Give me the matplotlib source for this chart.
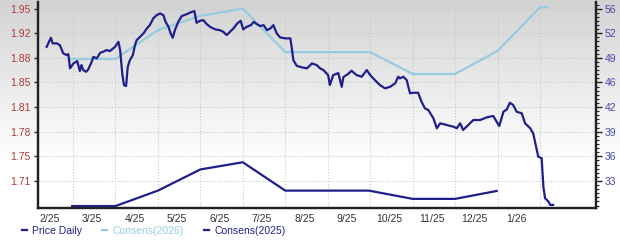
import numpy as np
import matplotlib
matplotlib.use('Agg')
import matplotlib.pyplot as plt
from matplotlib.colors import LinearSegmentedColormap

# x positions are in months: 1.0 = start of 3/25 grid line, 2.0 = 4/25, ...
month_labels = ['2/25', '3/25', '4/25', '5/25', '6/25', '7/25',
                '8/25', '9/25', '10/25', '11/25', '12/25', '1/26']

left_ticks = [1.71, 1.75, 1.78, 1.81, 1.85, 1.88, 1.92, 1.95]
right_ticks = [33, 36, 39, 42, 46, 49, 52, 56]

price_x = [0.38, 0.46, 0.48, 0.52, 0.62, 0.69, 0.77, 0.85, 0.89, 0.93,
           1.01, 1.10, 1.16, 1.20, 1.24, 1.31, 1.36, 1.44, 1.48, 1.56,
           1.64, 1.71, 1.79, 1.87, 1.99, 2.07, 2.11, 2.16, 2.20, 2.25,
           2.29, 2.34, 2.41, 2.46, 2.50, 2.58, 2.66, 2.74, 2.81, 2.89,
           2.97, 3.05, 3.13, 3.18, 3.25, 3.30, 3.35, 3.40, 3.48, 3.56,
           3.68, 3.80, 3.86, 3.91, 3.99, 4.07, 4.15, 4.23, 4.35, 4.46,
           4.54, 4.62, 4.70, 4.78, 4.87, 4.95, 5.01, 5.09, 5.19, 5.26,
           5.33, 5.41, 5.49, 5.57, 5.65, 5.72, 5.80, 5.88, 6.00, 6.12,
           6.15, 6.19, 6.27, 6.39, 6.51, 6.63, 6.74, 6.82, 6.90, 7.01,
           7.05, 7.13, 7.25, 7.33, 7.37, 7.48, 7.56, 7.68, 7.80, 7.92,
           8.00, 8.11, 8.23, 8.35, 8.47, 8.59, 8.66, 8.70, 8.78, 8.86,
           8.94, 9.02, 9.13, 9.21, 9.29, 9.37, 9.49, 9.57, 9.65, 9.80,
           9.96, 10.04, 10.12, 10.19, 10.31, 10.43, 10.59, 10.75, 10.90, 10.98,
           11.04, 11.14, 11.22, 11.29, 11.37, 11.45, 11.57, 11.65, 11.77, 11.84,
           11.91, 11.96, 12.04, 12.08, 12.12, 12.20, 12.24, 12.31]
price_y = [50.91, 51.89, 52.11, 51.36, 51.36, 51.13, 50.03, 49.80, 49.93, 48.03,
           48.69, 49.00, 47.67, 48.47, 47.80, 47.57, 47.89, 48.91, 49.57, 49.36,
           50.11, 50.24, 50.47, 50.33, 50.91, 51.57, 50.47, 47.36, 45.80, 45.67,
           48.24, 49.13, 49.80, 51.13, 51.80, 52.24, 52.69, 53.36, 53.80, 54.69,
           55.13, 55.36, 55.13, 54.24, 53.57, 52.69, 52.11, 53.13, 54.24, 55.00,
           55.27, 55.57, 55.67, 54.11, 54.37, 54.47, 53.93, 53.57, 53.23, 53.13,
           52.91, 52.47, 52.91, 53.36, 54.03, 54.37, 53.23, 53.57, 53.80, 54.24,
           53.93, 53.67, 53.80, 53.13, 53.36, 53.80, 52.69, 52.16, 52.03, 52.03,
           50.91, 49.13, 48.37, 48.16, 48.03, 48.69, 48.47, 48.03, 47.80, 47.13,
           45.80, 47.13, 47.40, 45.57, 46.87, 47.27, 47.71, 47.13, 46.91, 47.80,
           47.13, 46.47, 45.80, 45.36, 45.57, 46.03, 46.91, 46.69, 46.91, 46.47,
           44.69, 44.77, 44.77, 43.57, 42.69, 42.47, 41.36, 40.03, 40.69, 40.47,
           40.24, 40.03, 40.69, 39.80, 40.47, 41.13, 41.13, 41.49, 41.67, 40.91,
           40.33, 42.24, 42.56, 43.44, 43.13, 42.24, 42.03, 40.69, 40.03, 39.36,
           37.57, 36.24, 36.03, 32.24, 30.69, 30.24, 29.80, 29.80]

cons26_x = [0.95, 2, 3, 4, 5, 6, 7, 8, 9, 10, 11, 12, 12.17]
cons26_y = [1.880, 1.880, 1.920, 1.940, 1.950, 1.8895, 1.8895, 1.8895,
            1.859, 1.859, 1.891, 1.952, 1.952]

cons25_x = [0.98, 2, 3, 4, 5, 6, 7, 7.97, 9, 10, 10.98]
cons25_y = [1.675, 1.675, 1.6965, 1.726, 1.736, 1.6965, 1.6965, 1.6965,
            1.685, 1.685, 1.696]

navy = '#1f1f8a'
light_blue = '#93cde0'

plt.rcParams['font.family'] = ['Liberation Sans', 'DejaVu Sans']

fig = plt.figure(figsize=(6.2, 2.41), dpi=100)

# light grey to white background over the whole picture
bg = fig.add_axes([0, 0, 1, 1], zorder=-10)
grad = np.clip(np.linspace(0, 1.5, 256), 0, 1).reshape(-1, 1)
cmap = LinearSegmentedColormap.from_list('bg', ['#d3d3d3', '#ffffff'])
bg.imshow(grad, aspect='auto', extent=[0, 1, 0, 1], cmap=cmap)
bg.axis('off')

ax = fig.add_axes([38 / 620, 33 / 241, 558 / 620, 206 / 241])
ax.patch.set_alpha(0)
ax2 = ax.twinx()

l26, = ax.plot(cons26_x, cons26_y, color=light_blue, lw=1.6, label='Consens(2026)', zorder=2)
l25, = ax.plot(cons25_x, cons25_y, color=navy, lw=1.6, label='Consens(2025)', zorder=3)
lp, = ax2.plot(price_x, price_y, color=navy, lw=1.6, label='Price Daily')

ax.set_xlim(0.1755, 13.32)

lstep = (left_ticks[-1] - left_ticks[0]) / 7
rstep = (right_ticks[-1] - right_ticks[0]) / 7
lt = [left_ticks[0] + i * lstep for i in range(8)]
rt = [right_ticks[0] + i * rstep for i in range(8)]
ax.set_ylim(lt[0] - 1.1 * lstep, lt[-1] + 0.27 * lstep)
ax2.set_ylim(rt[0] - 1.1 * rstep, rt[-1] + 0.27 * rstep)

ax.set_yticks(lt)
ax.set_yticklabels(left_ticks)
ax2.set_yticks(rt)
ax2.set_yticklabels(right_ticks)
ax2.set_yticks([rt[0] - rstep + i * rstep / 6 for i in range(6 * 8 + 2)], minor=True)

ax.set_xticks([i + 0.45 for i in range(len(month_labels))])
ax.set_xticklabels(month_labels)
ax.set_xticks(range(1, 13), minor=True)

ax.grid(True, which='minor', axis='x', color='#c8c8c8', ls=':', lw=0.8)
ax.grid(True, which='major', axis='y', color='#c8c8c8', ls=':', lw=0.8)

ax.tick_params(axis='x', which='both', length=0, pad=4.5, labelsize=7.5, colors='#333333')
ax.tick_params(axis='y', which='major', length=3, width=1, color='#222222',
               pad=2.5, labelsize=7.5, labelcolor='#b03a3a')
ax2.tick_params(axis='y', which='major', length=4, width=1, color='#222222',
                pad=2, labelsize=7.5, labelcolor='#4848a6')
ax2.tick_params(axis='y', which='minor', length=2, width=0.8, color='#222222')

for a in (ax, ax2):
    a.spines['top'].set_visible(False)
    for s in ('left', 'right', 'bottom'):
        a.spines[s].set_color('#222222')
        a.spines[s].set_linewidth(1.6)

fig.legend(handles=[lp, l26, l25], loc='center left', bbox_to_anchor=(22 / 620, 1 - 231 / 241),
           ncol=3, frameon=False, fontsize=7.5, handlelength=0.5, handletextpad=0.5,
           columnspacing=1.9, labelcolor='linecolor', borderaxespad=0, borderpad=0)

fig.savefig('out.png', dpi=100)
